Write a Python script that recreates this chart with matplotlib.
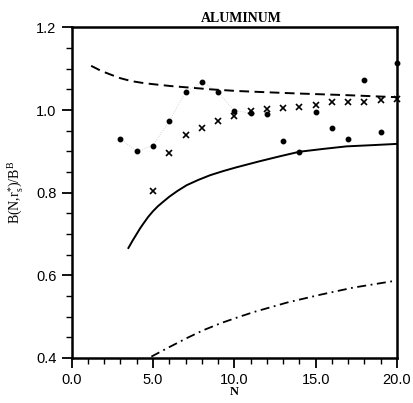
import numpy as np
import matplotlib
matplotlib.use('Agg')
import matplotlib.pyplot as plt
from matplotlib.ticker import MultipleLocator, FormatStrFormatter

plt.rcParams['mathtext.fontset'] = 'custom'
plt.rcParams['mathtext.rm'] = 'Liberation Serif'
plt.rcParams['mathtext.it'] = 'Liberation Serif'

# calculated points (dots) and second set (crosses)
n_dots = [3, 4, 5, 6, 7, 8, 9, 10, 11, 12, 13, 14, 15, 16, 17, 18, 19, 20]
b_dots = [0.930, 0.900, 0.914, 0.973, 1.043, 1.069, 1.043, 0.998, 0.993, 0.990,
          0.926, 0.899, 0.994, 0.956, 0.931, 1.073, 0.946, 1.115]
n_cross = [5, 6, 7, 8, 9, 10, 11, 12, 13, 14, 15, 16, 17, 18, 19, 20]
b_cross = [0.804, 0.896, 0.939, 0.957, 0.973, 0.986, 0.998, 1.002, 1.006, 1.007,
           1.012, 1.019, 1.020, 1.020, 1.024, 1.026]

# dashed curve
n_dash = [1.2, 1.8, 2.45, 3.0, 3.67, 4.3, 4.9, 6.1, 7.34, 8.56, 10.2, 12.0, 13.9, 16.9, 20.0]
b_dash = [1.107, 1.095, 1.085, 1.077, 1.070, 1.066, 1.063, 1.058, 1.054, 1.050,
          1.046, 1.043, 1.040, 1.036, 1.031]

# solid curve
n_solid = [3.49, 3.75, 4.0, 4.2, 4.41, 4.7, 5.0, 5.3, 5.63, 6.0, 6.5, 7.07, 7.8, 8.5,
           9.3, 10.1, 11.56, 12.8, 14.0, 15.5, 16.9, 18.5, 20.0]
b_solid = [0.666, 0.684, 0.700, 0.713, 0.725, 0.741, 0.755, 0.767, 0.778, 0.790,
           0.804, 0.818, 0.831, 0.842, 0.852, 0.861, 0.876, 0.888, 0.899, 0.906,
           0.912, 0.915, 0.918]

# dash-dot curve
n_dd = [4.9, 6.0, 7.14, 8.1, 9.17, 10.2, 11.2, 13.25, 15.3, 17.3, 19.8]
b_dd = [0.403, 0.426, 0.449, 0.467, 0.484, 0.498, 0.511, 0.534, 0.553, 0.570, 0.586]

fig = plt.figure(figsize=(4.14, 4.03), dpi=100)
ax = fig.add_axes([0.173, 0.112, 0.786, 0.820])

# faint pencil traces between a few of the dots
ax.plot(n_dots[:9], b_dots[:9], color='#c8c8c8', lw=0.6, ls=':', zorder=1)

ax.plot(n_dash, b_dash, color='black', lw=1.4, ls=(0, (5, 2.8)))
ax.plot(n_solid, b_solid, color='black', lw=1.4)
ax.plot(n_dd, b_dd, color='black', lw=1.3, ls=(0, (5, 2.5, 1, 2.5)))
ax.plot(n_dots, b_dots, ls='none', marker='o', ms=3.2, color='black', clip_on=False)
ax.plot(n_cross, b_cross, ls='none', marker='x', ms=5, mew=1.2, color='black', clip_on=False)

ax.set_xlim(0, 20)
ax.set_ylim(0.4, 1.2)
ax.xaxis.set_major_locator(MultipleLocator(5))
ax.xaxis.set_minor_locator(MultipleLocator(1))
ax.yaxis.set_major_locator(MultipleLocator(0.2))
ax.yaxis.set_minor_locator(MultipleLocator(0.05))
ax.xaxis.set_major_formatter(FormatStrFormatter('%.1f'))
ax.yaxis.set_major_formatter(FormatStrFormatter('%.1f'))
ax.tick_params(which='major', direction='out', length=7, width=1.3, labelsize=10.5, pad=4)
ax.tick_params(which='minor', direction='out', length=4, width=1.0)
for lab in ax.get_xticklabels() + ax.get_yticklabels():
    lab.set_family('Liberation Sans')
for sp in ax.spines.values():
    sp.set_linewidth(1.8)

ax.set_xlabel('N', family='Liberation Serif', fontweight='bold', fontsize=9, labelpad=-1)
ax.set_ylabel(r'B(N,r$_\mathrm{s}^{*}$)/B$^\mathrm{B}$', family='Liberation Serif',
              fontsize=10, labelpad=8)
ax.set_title('ALUMINUM', family='Liberation Serif', fontweight='bold', fontsize=10, pad=4, x=0.52)

fig.savefig('out.png', dpi=100)
